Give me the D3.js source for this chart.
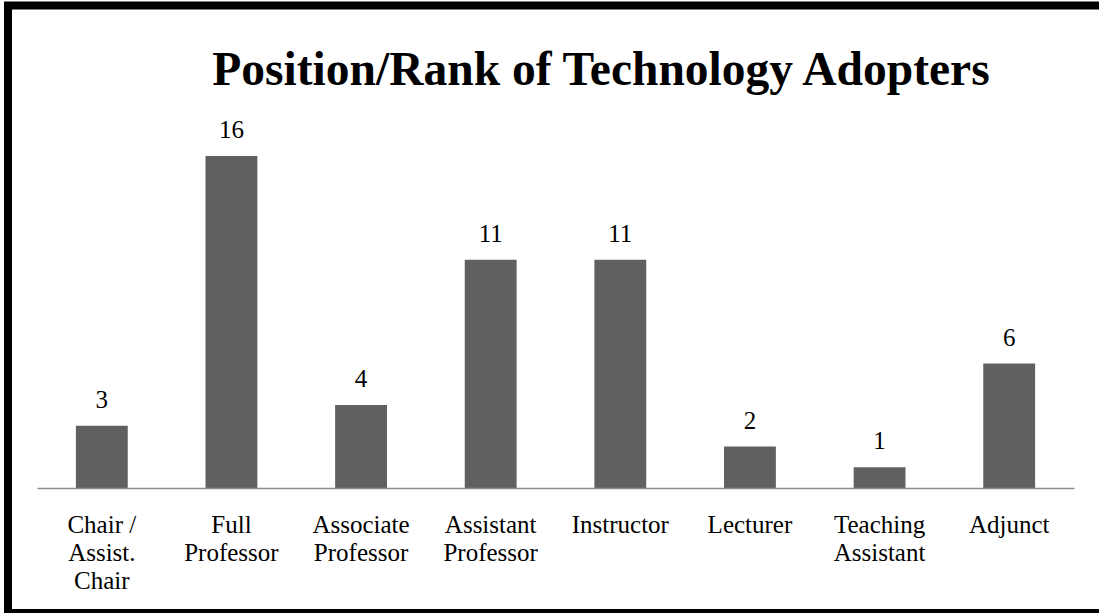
<!DOCTYPE html>
<html>
<head>
<meta charset="utf-8">
<script src="https://cdn.jsdelivr.net/npm/d3@7"></script>
<style>
  html, body { margin: 0; padding: 0; background: #fff; overflow: hidden; }
  svg { display: block; }
  svg text { font-family: "Liberation Serif", "Times New Roman", Times, serif; }
</style>
</head>
<body>
<svg id="chart" width="1099" height="613"></svg>
<script>
// ---- data ----
const categories = ["Chair / Assist. Chair", "Full Professor", "Associate Professor", "Assistant Professor", "Instructor", "Lecturer", "Teaching Assistant", "Adjunct"];
const tickLabels = [["Chair /", "Assist.", "Chair"], ["Full", "Professor"], ["Associate", "Professor"], ["Assistant", "Professor"], ["Instructor"], ["Lecturer"], ["Teaching", "Assistant"], ["Adjunct"]];
const values = [3, 16, 4, 11, 11, 2, 1, 6];
const titleText = "Position/Rank of Technology Adopters";

// ---- layout ----
const W = 1099, H = 613;
const svg = d3.select("#chart");
const serif = "\"Liberation Serif\", \"Times New Roman\", Times, serif";

svg.append("rect").attr("x", 0).attr("y", 0).attr("width", W).attr("height", H).attr("fill", "#fff");

// frame (right edge lies outside the picture)
svg.append("rect")
  .attr("x", 8).attr("y", 5.5)
  .attr("width", 1300).attr("height", 607.5)
  .attr("fill", "none").attr("stroke", "#000").attr("stroke-width", 8);

const x = d3.scaleBand()
  .domain(categories)
  .range([37, 1074])
  .paddingInner(0.6)
  .paddingOuter(0.3);

const y = d3.scaleLinear()
  .domain([0, 16])
  .range([488, 156]);

// title
svg.append("text")
  .attr("x", 601).attr("y", 85)
  .attr("text-anchor", "middle")
  .style("font-family", serif)
  .attr("font-weight", "bold")
  .attr("font-size", 47.5)
  .attr("fill", "#000")
  .text(titleText);

// bars
svg.append("g").selectAll("rect")
  .data(values)
  .join("rect")
  .attr("x", (d, i) => x(categories[i]))
  .attr("y", d => y(d))
  .attr("width", x.bandwidth())
  .attr("height", d => y(0) - y(d))
  .attr("fill", "#606060");

// value labels
svg.append("g").selectAll("text")
  .data(values)
  .join("text")
  .attr("x", (d, i) => x(categories[i]) + x.bandwidth() / 2)
  .attr("y", d => y(d) - 18)
  .attr("text-anchor", "middle")
  .style("font-family", serif)
  .attr("font-size", 25)
  .attr("fill", "#000")
  .text(d => d);

// axis
const axis = d3.axisBottom(x).tickSize(0).tickFormat("");
const gAxis = svg.append("g").attr("transform", `translate(0,${y(0)})`).call(axis);
gAxis.attr("font-family", null);
gAxis.select(".domain").attr("stroke", "#8c8c8c").attr("stroke-width", 1.5);

gAxis.selectAll(".tick").each(function(d, i) {
  const t = d3.select(this).select("text")
    .attr("y", 0).attr("dy", null)
    .style("font-family", serif)
    .attr("font-size", 25)
    .attr("fill", "#000")
    .attr("text-anchor", "middle");
  t.selectAll("tspan")
    .data(tickLabels[i])
    .join("tspan")
    .attr("x", 0)
    .attr("y", (l, j) => 45 + j * 28)
    .text(l => l);
});
</script>
</body>
</html>
